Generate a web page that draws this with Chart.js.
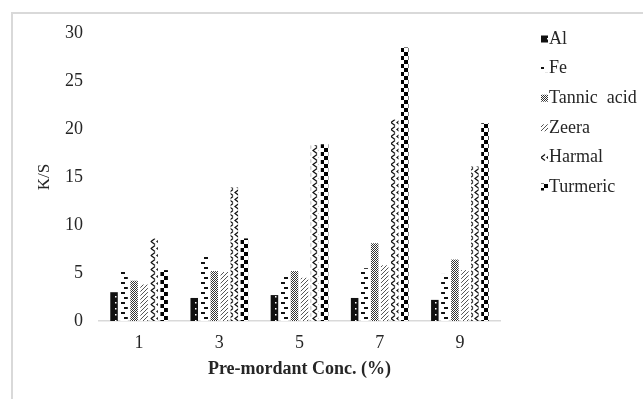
<!DOCTYPE html>
<html><head><meta charset="utf-8">
<script src="https://cdn.jsdelivr.net/npm/chart.js@4.4.0/dist/chart.umd.min.js"></script>
<style>
html,body{margin:0;padding:0;background:#fff;overflow:hidden;}
#frame{position:absolute;left:11px;top:12px;width:700px;height:500px;border:2px solid #d9d9d9;box-sizing:border-box;}
#wrap{position:absolute;left:0;top:0;width:643px;height:399px;}
</style></head>
<body>
<div id="frame"></div>
<div id="wrap"><canvas id="c" width="643" height="399"></canvas></div>
<script>
const categories = ["1","3","5","7","9"];
const seriesNames = ["Al","Fe","Tannic  acid","Zeera","Harmal","Turmeric"];
const al       = [3.0, 2.4, 2.7, 2.4, 2.2];
const fe       = [5.4, 6.7, 4.8, 5.5, 4.9];
const tannic   = [4.2, 5.2, 5.2, 8.1, 6.4];
const zeera    = [3.8, 5.1, 4.5, 5.8, 5.3];
const harmal   = [8.6, 13.9, 18.3, 21.0, 16.1];
const turmeric = [5.3, 8.6, 18.4, 28.5, 20.6];
const yTicks = [0,5,10,15,20,25,30];

function makePattern(w,h,draw){
  const c=document.createElement('canvas');c.width=w;c.height=h;
  const g=c.getContext('2d');g.fillStyle='#fff';g.fillRect(0,0,w,h);draw(g);
  return document.getElementById('c').getContext('2d').createPattern(c,'repeat');
}
const pAl = makePattern(8,6,g=>{g.fillStyle='#111';g.fillRect(0,0,8,6);g.fillStyle='#fff';g.fillRect(3,2,1.5,1.5);});
const pFe = makePattern(8,10,g=>{g.fillStyle='#111';g.fillRect(1,2,4,2);g.fillRect(4,7,4,2);});
const pTan = makePattern(2,2,g=>{g.fillStyle='#333';g.fillRect(0,0,1,1);g.fillRect(1,1,1,1);});
const pZee = makePattern(4,4,g=>{g.strokeStyle='#555';g.lineWidth=1;g.beginPath();g.moveTo(0,4);g.lineTo(4,0);g.stroke();});
const pHar = makePattern(6,7,g=>{g.strokeStyle='#111';g.lineWidth=1.3;g.beginPath();g.moveTo(5,0.5);g.lineTo(1,3.5);g.lineTo(5,6.5);g.stroke();});
const pTur = makePattern(8,8,g=>{g.fillStyle='#000';g.fillRect(0,0,4,4);g.fillRect(4,4,4,4);});
const patterns=[pAl,pFe,pTan,pZee,pHar,pTur];
const values=[al,fe,tannic,zeera,harmal,turmeric];

const legendPlugin={id:'customLegend',afterDraw(chart){
  const ctx=chart.ctx;ctx.save();
  ctx.font='18px "Liberation Serif"';ctx.textBaseline='middle';
  chart.data.datasets.forEach((ds,i)=>{
    const y=39+i*29.6;
    ctx.fillStyle=ds.backgroundColor;ctx.fillRect(541,y-3.5,7,7);
    ctx.fillStyle='#262626';ctx.fillText(ds.label,549,y);
  });
  ctx.restore();
}};

new Chart(document.getElementById('c'),{
  type:'bar',
  data:{labels:categories,datasets:seriesNames.map((n,i)=>({label:n,data:values[i],backgroundColor:patterns[i],borderWidth:0}))},
  options:{
    responsive:false,animation:false,
    layout:{padding:{left:34,right:143,top:33,bottom:19}},
    plugins:{legend:{display:false},tooltip:{enabled:false}},
    datasets:{bar:{categoryPercentage:0.75,barPercentage:0.75}},
    scales:{
      x:{grid:{display:false},border:{color:'#d9d9d9',width:1.5},
        afterFit(s){s.height=59;},
        ticks:{color:'#262626',font:{family:'Liberation Serif',size:18},padding:3},
        title:{display:true,text:'Pre-mordant Conc. (%)',color:'#262626',font:{family:'Liberation Serif',size:18,weight:'bold'},padding:{top:0,bottom:0}}},
      y:{min:0,max:30,grid:{display:false},border:{display:false},
        afterBuildTicks(s){s.ticks=yTicks.map(v=>({value:v}));},
        afterFit(s){s.width=65;},
        ticks:{color:'#262626',font:{family:'Liberation Serif',size:18},padding:8},
        title:{display:true,text:'K/S',color:'#262626',font:{family:'Liberation Serif',size:17},padding:{top:0,bottom:0}}}
    }
  },
  plugins:[legendPlugin]
});
</script>
</body></html>
